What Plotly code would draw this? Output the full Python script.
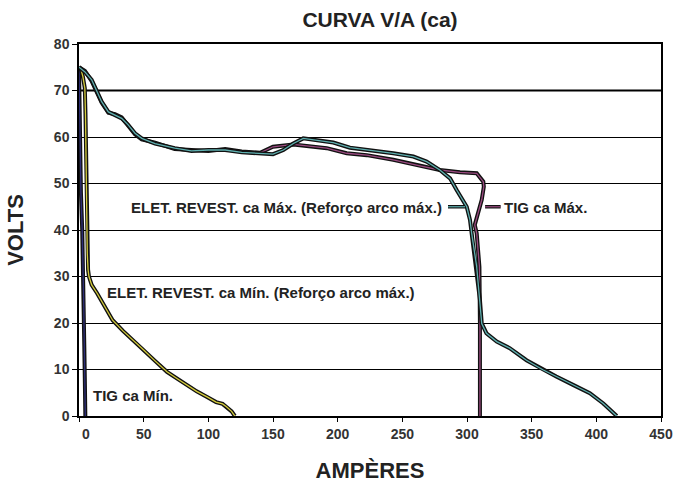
import plotly.graph_objects as go

# ---- data ----
TIG_MIN_A = [0, 0.3, 0.8, 1.5, 2.5, 3.2, 3.6, 4.1, 4.5, 4.9]
TIG_MIN_V = [75, 68, 56, 48, 40, 32, 25, 15, 8, 0]

ELET_MIN_A = [0, 1.5, 3.0, 4.5, 5.0, 5.4, 5.9, 6.4, 7.0, 7.7, 9.8, 14, 20, 26, 34, 42, 50,
              59, 68, 76, 83, 91, 99, 106, 111, 114, 118, 120.5]
ELET_MIN_V = [75, 74.6, 73, 70.5, 65, 56, 42, 35, 31.5, 30, 28.2, 26.4, 23.5, 20.6, 18.3, 16.3, 14.2,
              11.8, 9.5, 8.0, 6.7, 5.3, 4.1, 3.0, 2.6, 2.0, 1.0, 0]

ELET_MAX_A = [0, 4.6, 9.8, 13.7, 17.5, 22.7, 27.8, 33, 38, 43.3, 48.5, 58.8, 74, 87, 100, 113,
              125.8, 140, 150, 158, 165.7, 173.4, 181, 196.6, 209.5, 225, 243, 258.5, 268.8, 279,
              286.9, 292, 299.8, 302.3, 303.6, 307.5, 310, 311.4, 315, 323, 333, 346, 359, 369,
              382, 395, 405.4, 415.8]
ELET_MAX_V = [75, 74, 72.3, 70.1, 67.6, 65.4, 64.7, 64.0, 62.6, 60.8, 59.7, 58.6, 57.6, 57.0, 57.2, 57.2,
              56.7, 56.5, 56.3, 57.2, 58.6, 59.7, 59.4, 58.8, 57.7, 57.2, 56.5, 55.8, 54.7, 52.9,
              51.1, 48.6, 45, 42.2, 39.3, 32.1, 25, 19.9, 17.8, 16, 14.6, 12, 9.9, 8.5,
              6.7, 4.9, 2.7, 0]

TIG_MAX_A = [0, 4.6, 9.8, 13.7, 17.5, 22.7, 27.8, 33, 38, 43.3, 48.5, 58.8, 74, 87, 100, 113,
             125.8, 140, 150, 165.7, 191.5, 207, 222.5, 243, 263.7, 279, 294.6, 307.5, 312.6,
             313, 311.4, 308.7, 306, 307.5, 309.6, 310, 310]
TIG_MAX_V = [75, 74.2, 72.0, 69.8, 67.4, 65.2, 64.9, 64.2, 62.4, 60.6, 59.5, 58.8, 57.4, 57.1, 57.0, 57.4,
             56.9, 56.6, 57.9, 58.4, 57.6, 56.5, 56.1, 55.1, 53.8, 52.9, 52.4, 52.2, 50.4,
             49.3, 46.5, 43.6, 41.1, 39.3, 32.1, 19.9, 0]

X_TICKS = [0, 50, 100, 150, 200, 250, 300, 350, 400, 450]
Y_TICKS = [0, 10, 20, 30, 40, 50, 60, 70, 80]

SERIES = [
    ("TIG ca Mín.", TIG_MIN_A, TIG_MIN_V, "#2e2e78"),
    ("ELET. REVEST. ca Mín. (Reforço arco máx.)", ELET_MIN_A, ELET_MIN_V, "#d4cc3c"),
    ("TIG ca Máx.", TIG_MAX_A, TIG_MAX_V, "#9a4a80"),
    ("ELET. REVEST. ca Máx. (Reforço arco máx.)", ELET_MAX_A, ELET_MAX_V, "#5fb0b0"),
]

FONT = "Liberation Sans, Arial, sans-serif"
W, H = 673, 485

fig = go.Figure()
for name, xs, ys, col in SERIES:
    fig.add_trace(go.Scatter(x=xs, y=ys, mode="lines", line=dict(color="#111111", width=4),
                             hoverinfo="skip", showlegend=False))
    fig.add_trace(go.Scatter(x=xs, y=ys, mode="lines", name=name,
                             line=dict(color=col, width=1.3), showlegend=False))

# short leader segments beside the labels
for x0, x1, col in [(285.3, 298.5, "#5fb0b0"), (314, 326, "#9a4a80")]:
    fig.add_shape(type="line", x0=x0, x1=x1, y0=45, y1=45, xref="x", yref="y",
                  line=dict(color="#111111", width=3.5))
    fig.add_shape(type="line", x0=x0, x1=x1, y0=45, y1=45, xref="x", yref="y",
                  line=dict(color=col, width=1.2))

# heavier 70 V line
fig.add_shape(type="line", x0=0, x1=450, y0=70, y1=70, xref="x", yref="y",
              line=dict(color="#000000", width=2), layer="below")

lab_font = dict(family=FONT, size=15, color="#222222")
annots = [
    dict(x=282.2, y=44.9, text="<b>ELET. REVEST. ca Máx. (Reforço arco máx.)</b>", xanchor="right"),
    dict(x=327, y=44.9, text="<b>TIG ca Máx.</b>", xanchor="left"),
    dict(x=20, y=26.5, text="<b>ELET. REVEST. ca Mín. (Reforço arco máx.)</b>", xanchor="left"),
    dict(x=9.3, y=4.5, text="<b>TIG ca Mín.</b>", xanchor="left"),
]
for a in annots:
    fig.add_annotation(x=a["x"], y=a["y"], text=a["text"], xanchor=a["xanchor"], yanchor="middle",
                       showarrow=False, font=lab_font, xref="x", yref="y")

x_text = [f"<b>{t}</b>" for t in X_TICKS]
x_text[0] = "\u2002\u2002<b>0</b>"

fig.update_layout(
    width=W, height=H,
    margin=dict(l=79, r=12, t=44, b=69, autoexpand=False),
    paper_bgcolor="white", plot_bgcolor="white",
    title=dict(text="<b>CURVA V/A (ca)</b>", x=380 / W, xanchor="center",
               y=1 - 20 / H, yanchor="middle",
               font=dict(family=FONT, size=21, color="#222222")),
    font=dict(family=FONT, color="#222222"),
    xaxis=dict(range=[0, 450], tickvals=X_TICKS, ticktext=x_text, automargin=False,
               ticklabeloverflow="allow",
               showgrid=False, zeroline=False, showline=True, linecolor="#000000", linewidth=1.5,
               mirror=True, ticks="outside", ticklen=4, tickcolor="#000000",
               tickfont=dict(family=FONT, size=14, color="#333333"),
               title=dict(text="<b>AMPÈRES</b>", standoff=22,
                          font=dict(family=FONT, size=22, color="#222222"))),
    yaxis=dict(range=[0, 80], tickvals=Y_TICKS, ticktext=[f"<b>{t}</b>" for t in Y_TICKS],
               automargin=False,
               showgrid=True, gridcolor="#000000", gridwidth=1, zeroline=False,
               showline=True, linecolor="#000000", linewidth=1.5, mirror=True,
               ticks="outside", ticklen=5, tickcolor="#000000",
               tickfont=dict(family=FONT, size=14, color="#333333"),
               title=dict(text="<b>VOLTS</b>", standoff=24,
                          font=dict(family=FONT, size=22, color="#222222"))),
)

# drop the browser's default 8px page margin so the 673x485 figure fills the window
fig.write_html("out.html", config={"displayModeBar": False},
               post_script="document.body.style.margin='0';document.body.style.overflow='hidden';")
